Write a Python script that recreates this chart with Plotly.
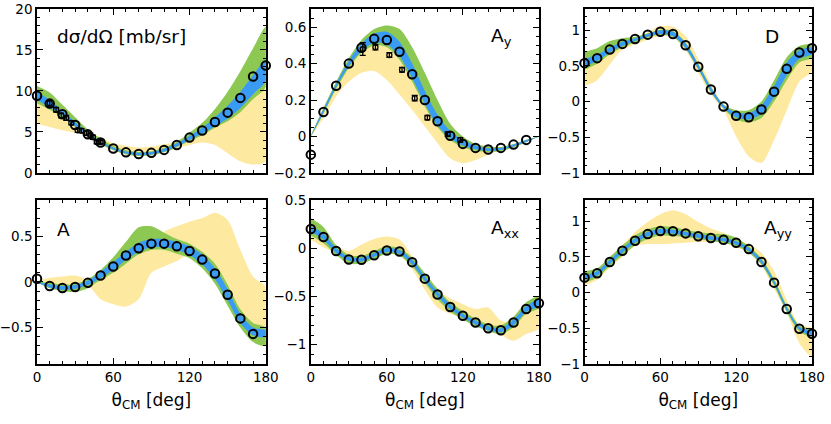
import plotly.graph_objects as go

# ---------------- data ----------------
theta = [0, 10, 20, 30, 40, 50, 60, 70, 80, 90, 100, 110, 120, 130, 140, 150, 160, 170, 180]
theta17 = theta[:18]

# Panel 1: dsigma/dOmega
xs_calc = [9.4, 8.45, 7.15, 5.85, 4.7, 3.7, 2.97, 2.5, 2.3, 2.44, 2.8, 3.4, 4.3, 5.16, 6.2, 7.35, 9.15, 11.75, 13.1]
xs_blue_lo = [8.9, 8.0, 7.0, 5.7, 4.55, 3.6, 2.85, 2.35, 2.15, 2.25, 2.6, 3.2, 4.0, 4.8, 5.7, 6.6, 7.9, 9.6, 11.2]
xs_blue_hi = [9.9, 8.9, 7.6, 6.2, 4.95, 3.9, 3.1, 2.6, 2.45, 2.55, 2.95, 3.6, 4.5, 5.5, 6.8, 8.2, 9.9, 11.9, 13.8]
xs_green_lo = [8.5, 7.7, 6.8, 5.6, 4.45, 3.5, 2.75, 2.25, 2.05, 2.15, 2.5, 3.1, 3.9, 4.6, 5.5, 6.3, 7.4, 9.0, 10.5]
xs_green_hi = [10.6, 9.8, 8.3, 6.8, 5.3, 4.2, 3.3, 2.75, 2.55, 2.65, 3.05, 3.8, 4.9, 6.1, 7.8, 9.9, 12.4, 15.2, 17.8]
xs_yel_lo = [6.0, 5.6, 5.2, 4.9, 4.6, 3.9, 3.0, 2.4, 2.2, 2.3, 2.6, 3.0, 3.4, 3.7, 3.4, 2.4, 1.4, 1.0, 1.4]
xs_yel_hi = [10.0, 9.0, 7.8, 6.5, 5.2, 4.3, 3.6, 3.3, 3.1, 3.2, 3.5, 3.8, 4.2, 4.8, 5.6, 6.6, 7.9, 9.2, 10.3]
xs_exp_theta = [10, 15, 19, 23, 27, 32, 35, 39, 42, 44, 47, 50]
xs_exp = [8.5, 7.7, 7.0, 6.7, 6.1, 5.2, 5.15, 4.85, 4.6, 4.35, 3.75, 3.75]
xs_exp_err = [0.35, 0.3, 0.3, 0.3, 0.25, 0.25, 0.25, 0.25, 0.25, 0.25, 0.2, 0.2]

# Panel 2: Ay
ay_calc = [-0.1, 0.134, 0.278, 0.40, 0.487, 0.536, 0.53, 0.465, 0.342, 0.2, 0.083, 0.004, -0.041, -0.063, -0.072, -0.063, -0.045, -0.019]
ay_blue_lo = [0.0, 0.13, 0.27, 0.385, 0.47, 0.515, 0.505, 0.44, 0.32, 0.18, 0.06, -0.01, -0.05, -0.07, -0.08, -0.075, -0.055, -0.03, 0.0]
ay_blue_hi = [0.0, 0.15, 0.29, 0.415, 0.51, 0.565, 0.575, 0.52, 0.40, 0.25, 0.12, 0.03, -0.02, -0.05, -0.065, -0.062, -0.045, -0.02, 0.0]
ay_green_lo = [0.0, 0.125, 0.26, 0.375, 0.46, 0.50, 0.49, 0.42, 0.30, 0.165, 0.05, -0.02, -0.06, -0.078, -0.085, -0.08, -0.06, -0.032, 0.0]
ay_green_hi = [0.0, 0.155, 0.30, 0.43, 0.53, 0.59, 0.61, 0.59, 0.49, 0.35, 0.20, 0.07, 0.0, -0.04, -0.055, -0.058, -0.042, -0.018, 0.0]
ay_yel_lo = [0.0, 0.10, 0.22, 0.30, 0.35, 0.36, 0.31, 0.23, 0.145, 0.054, -0.037, -0.12, -0.147, -0.13, -0.1, -0.075, -0.055, -0.03, 0.0]
ay_yel_hi = [0.0, 0.16, 0.29, 0.40, 0.47, 0.50, 0.49, 0.42, 0.31, 0.17, 0.08, 0.0, -0.04, -0.06, -0.07, -0.065, -0.045, -0.02, 0.0]
ay_exp_theta = [41, 51, 62, 72, 82, 92, 108, 118]
ay_exp = [0.48, 0.49, 0.447, 0.366, 0.21, 0.103, 0.013, -0.019]
ay_exp_err = [0.035, 0.015, 0.013, 0.013, 0.015, 0.012, 0.012, 0.012]

# Panel 3: D
d_calc = [0.54, 0.61, 0.73, 0.81, 0.88, 0.94, 0.98, 0.95, 0.79, 0.49, 0.17, -0.07, -0.2, -0.22, -0.11, 0.14, 0.46, 0.69, 0.75]
d_blue_lo = [0.49, 0.57, 0.69, 0.78, 0.85, 0.91, 0.95, 0.92, 0.75, 0.46, 0.14, -0.09, -0.22, -0.25, -0.17, 0.06, 0.37, 0.6, 0.67]
d_blue_hi = [0.60, 0.66, 0.76, 0.84, 0.89, 0.95, 1.0, 0.98, 0.82, 0.52, 0.20, -0.05, -0.15, -0.16, -0.05, 0.22, 0.55, 0.72, 0.76]
d_green_lo = [0.45, 0.53, 0.66, 0.76, 0.83, 0.90, 0.94, 0.91, 0.74, 0.45, 0.13, -0.10, -0.25, -0.29, -0.23, 0.0, 0.30, 0.55, 0.62]
d_green_hi = [0.70, 0.75, 0.85, 0.89, 0.91, 0.96, 1.01, 0.99, 0.83, 0.53, 0.21, -0.04, -0.12, -0.12, 0.0, 0.30, 0.62, 0.78, 0.80]
d_yel_lo = [0.22, 0.30, 0.52, 0.73, 0.80, 0.87, 0.92, 0.90, 0.72, 0.40, 0.10, -0.12, -0.49, -0.77, -0.86, -0.54, -0.12, 0.28, 0.43]
d_yel_hi = [0.58, 0.62, 0.72, 0.80, 0.86, 0.97, 1.06, 1.05, 0.92, 0.60, 0.25, -0.04, -0.15, -0.2, -0.15, 0.12, 0.40, 0.60, 0.70]

# Panel 4: A
a_calc = [0.035, -0.045, -0.067, -0.056, -0.01, 0.07, 0.17, 0.29, 0.37, 0.42, 0.42, 0.39, 0.34, 0.245, 0.093, -0.14, -0.40, -0.57]
a_blue_lo = [0.0, -0.06, -0.085, -0.075, -0.035, 0.04, 0.13, 0.24, 0.33, 0.38, 0.38, 0.35, 0.295, 0.19, 0.03, -0.2, -0.45, -0.585, -0.6]
a_blue_hi = [0.0, -0.025, -0.045, -0.035, 0.015, 0.11, 0.22, 0.33, 0.43, 0.47, 0.47, 0.44, 0.39, 0.30, 0.15, -0.08, -0.35, -0.5, -0.53]
a_green_lo = [0.0, -0.07, -0.1, -0.11, -0.07, 0.02, 0.10, 0.20, 0.30, 0.35, 0.35, 0.31, 0.26, 0.15, -0.02, -0.26, -0.5, -0.66, -0.7]
a_green_hi = [0.0, -0.01, -0.03, -0.02, 0.03, 0.13, 0.27, 0.44, 0.60, 0.61, 0.54, 0.47, 0.42, 0.33, 0.2, -0.03, -0.3, -0.45, -0.5]
a_yel_lo = [0.0, -0.03, -0.04, -0.03, -0.04, -0.19, -0.245, -0.27, -0.19, 0.1, 0.17, 0.23, 0.3, 0.22, 0.05, -0.12, -0.35, -0.52, -0.56]
a_yel_hi = [0.0, 0.045, 0.06, 0.07, 0.03, 0.05, 0.12, 0.2, 0.3, 0.4, 0.55, 0.61, 0.66, 0.7, 0.76, 0.68, 0.35, 0.06, -0.06]

# Panel 5: Axx
axx_calc = [0.198, 0.116, -0.029, -0.117, -0.12, -0.073, -0.025, -0.035, -0.145, -0.316, -0.48, -0.61, -0.70, -0.77, -0.83, -0.85, -0.77, -0.63, -0.57]
axx_blue_lo = [0.17, 0.09, -0.05, -0.13, -0.14, -0.09, -0.04, -0.06, -0.17, -0.34, -0.5, -0.63, -0.72, -0.79, -0.85, -0.87, -0.8, -0.66, -0.6]
axx_blue_hi = [0.23, 0.15, 0.0, -0.09, -0.1, -0.05, 0.0, -0.02, -0.12, -0.29, -0.45, -0.58, -0.68, -0.75, -0.81, -0.83, -0.74, -0.6, -0.53]
axx_green_lo = [0.13, 0.05, -0.07, -0.16, -0.16, -0.11, -0.06, -0.08, -0.19, -0.36, -0.53, -0.66, -0.74, -0.81, -0.86, -0.89, -0.82, -0.68, -0.62]
axx_green_hi = [0.31, 0.22, 0.03, -0.07, -0.08, -0.03, 0.02, 0.0, -0.1, -0.26, -0.42, -0.56, -0.65, -0.73, -0.79, -0.8, -0.71, -0.56, -0.5]
axx_yel_lo = [0.09, 0.01, -0.05, -0.12, -0.11, -0.08, -0.05, -0.07, -0.22, -0.43, -0.615, -0.68, -0.72, -0.8, -0.85, -0.9, -0.96, -0.89, -0.83]
axx_yel_hi = [0.3, 0.2, 0.03, -0.03, 0.037, 0.095, 0.12, 0.09, -0.08, -0.27, -0.43, -0.52, -0.58, -0.63, -0.615, -0.75, -0.77, -0.65, -0.6]

# Panel 6: Ayy
ayy_calc = [0.21, 0.27, 0.43, 0.586, 0.727, 0.82, 0.863, 0.86, 0.83, 0.79, 0.765, 0.74, 0.70, 0.61, 0.43, 0.14, -0.23, -0.505, -0.576]
ayy_blue_lo = [0.18, 0.24, 0.40, 0.56, 0.70, 0.79, 0.83, 0.83, 0.80, 0.77, 0.74, 0.72, 0.67, 0.58, 0.41, 0.12, -0.25, -0.52, -0.6]
ayy_blue_hi = [0.25, 0.30, 0.46, 0.62, 0.76, 0.85, 0.89, 0.88, 0.85, 0.82, 0.79, 0.77, 0.72, 0.63, 0.46, 0.17, -0.2, -0.48, -0.54]
ayy_green_lo = [0.14, 0.21, 0.37, 0.52, 0.66, 0.75, 0.80, 0.79, 0.78, 0.75, 0.72, 0.70, 0.65, 0.56, 0.39, 0.10, -0.27, -0.54, -0.62]
ayy_green_hi = [0.30, 0.34, 0.50, 0.66, 0.80, 0.89, 0.93, 0.92, 0.88, 0.85, 0.83, 0.82, 0.77, 0.65, 0.48, 0.19, -0.18, -0.46, -0.52]
ayy_yel_lo = [0.1, 0.18, 0.35, 0.5, 0.65, 0.68, 0.68, 0.69, 0.70, 0.71, 0.71, 0.70, 0.64, 0.56, 0.38, 0.05, -0.28, -0.71, -0.9]
ayy_yel_hi = [0.25, 0.3, 0.45, 0.66, 0.85, 0.99, 1.1, 1.15, 1.1, 0.99, 0.9, 0.84, 0.74, 0.68, 0.56, 0.3, -0.1, -0.45, -0.5]

x_ticks = [0, 60, 120, 180]
panel_labels = ["dσ/dΩ [mb/sr]", "A<sub>y</sub>", "D", "A", "A<sub>xx</sub>", "A<sub>yy</sub>"]
x_title = "θ<sub>CM</sub> [deg]"

# ---------------- styling ----------------
YEL = "#FEE9A1"
GRN = "#8DC853"
BLU = "#3A9BF5"
FONT = "DejaVu Sans"

W, H = 831, 424
col_px = [(37, 265.7), (310.7, 538.7), (584.3, 811.7)]
row_px = [(9.3, 173), (200, 364)]
ML, MR = col_px[0][0], W - col_px[2][1]
MT, MB = row_px[0][0], H - row_px[1][1]
pw = W - ML - MR
ph = H - MT - MB
xdoms = [[max(0.0, (a - ML) / pw), min(1.0, (b - ML) / pw)] for a, b in col_px]
ydoms = [[max(0.0, (H - MB - b) / ph), min(1.0, (H - MB - a) / ph)] for a, b in row_px]

panels = [
    dict(calc=xs_calc, ct=theta, bands=(xs_yel_lo, xs_yel_hi, xs_green_lo, xs_green_hi, xs_blue_lo, xs_blue_hi),
         yr=[0, 20], dt=5, mdt=1, exp=(xs_exp_theta, xs_exp, xs_exp_err)),
    dict(calc=ay_calc, ct=theta17, bands=(ay_yel_lo, ay_yel_hi, ay_green_lo, ay_green_hi, ay_blue_lo, ay_blue_hi),
         yr=[-0.2, 0.7], dt=0.2, mdt=0.05, exp=(ay_exp_theta, ay_exp, ay_exp_err)),
    dict(calc=d_calc, ct=theta, bands=(d_yel_lo, d_yel_hi, d_green_lo, d_green_hi, d_blue_lo, d_blue_hi),
         yr=[-1, 1.3], dt=0.5, mdt=0.1, exp=None),
    dict(calc=a_calc, ct=theta17, bands=(a_yel_lo, a_yel_hi, a_green_lo, a_green_hi, a_blue_lo, a_blue_hi),
         yr=[-0.9, 0.9], dt=0.5, mdt=0.1, exp=None),
    dict(calc=axx_calc, ct=theta, bands=(axx_yel_lo, axx_yel_hi, axx_green_lo, axx_green_hi, axx_blue_lo, axx_blue_hi),
         yr=[-1.2, 0.5], dt=0.5, mdt=0.1, exp=None),
    dict(calc=ayy_calc, ct=theta, bands=(ayy_yel_lo, ayy_yel_hi, ayy_green_lo, ayy_green_hi, ayy_blue_lo, ayy_blue_hi),
         yr=[-1, 1.3], dt=0.5, mdt=0.1, exp=None),
]

fig = go.Figure()
layout = {}
for i, p in enumerate(panels):
    n = i + 1
    xa = "x" if n == 1 else f"x{n}"
    ya = "y" if n == 1 else f"y{n}"
    r, c = divmod(i, 3)
    yl, yh, gl, gh, bl, bh = p["bands"]
    for lo, hi, col in ((yl, yh, YEL), (gl, gh, GRN), (bl, bh, BLU)):
        fig.add_trace(go.Scatter(
            x=theta + theta[::-1], y=hi + lo[::-1], fill="toself", fillcolor=col,
            mode="lines", line=dict(width=0, color=col, shape="spline", smoothing=0.8),
            xaxis=xa, yaxis=ya, showlegend=False, hoverinfo="skip"))
    if p["exp"] is not None:
        et, ev, ee = p["exp"]
        fig.add_trace(go.Scatter(
            x=et, y=ev, mode="markers",
            marker=dict(symbol="circle-open", size=5, color="black", line=dict(width=1.3)),
            error_y=dict(type="data", array=ee, color="black", thickness=1.3, width=3),
            xaxis=xa, yaxis=ya, showlegend=False))
    fig.add_trace(go.Scatter(
        x=p["ct"], y=p["calc"], mode="markers", cliponaxis=False,
        marker=dict(symbol="circle-open", size=8.5, color="black", line=dict(width=2, color="black")),
        xaxis=xa, yaxis=ya, showlegend=False))

    axcommon = dict(showline=True, linecolor="black", linewidth=1.5, mirror="ticks",
                    ticks="inside", ticklen=6, tickwidth=1.3, tickcolor="black",
                    showgrid=False, zeroline=False, automargin=False,
                    tickfont=dict(family=FONT, size=13.5, color="black"))
    xkey = "xaxis" if n == 1 else f"xaxis{n}"
    ykey = "yaxis" if n == 1 else f"yaxis{n}"
    xax = dict(axcommon, domain=xdoms[c], anchor=ya, range=[0, 180],
               tickvals=x_ticks, showticklabels=(r == 1),
               minor=dict(dtick=10, tick0=0, ticklen=3, tickwidth=1.2, tickcolor="black", ticks="inside", showgrid=False))
    if r == 1:
        xax["title"] = dict(text=x_title, font=dict(family=FONT, size=17, color="black"), standoff=10)
    layout[xkey] = xax
    layout[ykey] = dict(axcommon, domain=ydoms[r], anchor=xa, range=p["yr"],
                        dtick=p["dt"], tick0=0,
                        minor=dict(dtick=p["mdt"], tick0=0, ticklen=3, tickwidth=1.2, tickcolor="black", ticks="inside", showgrid=False))

annots = []
label_pos = [(0.079, 0.83), (0.78, 0.83), (0.785, 0.83),
             (0.079, 0.82), (0.78, 0.82), (0.78, 0.82)]
for i, (lab, (fx, fy)) in enumerate(zip(panel_labels, label_pos)):
    r, c = divmod(i, 3)
    xd, yd = xdoms[c], ydoms[r]
    annots.append(dict(text=lab, xref="paper", yref="paper",
                       x=xd[0] + fx * (xd[1] - xd[0]), y=yd[0] + fy * (yd[1] - yd[0]),
                       xanchor="left", yanchor="middle", showarrow=False,
                       font=dict(family=FONT, size=18.5, color="black")))

fig.update_layout(**layout)
fig.update_layout(width=W, height=H, margin=dict(l=ML, r=MR, t=MT, b=MB, autoexpand=False),
                  paper_bgcolor="white", plot_bgcolor="white", annotations=annots,
                  font=dict(family=FONT, color="black"))
fig.write_html("out.html", config={"displayModeBar": False},
               post_script="document.body.style.margin='0';document.body.style.overflow='hidden';")
